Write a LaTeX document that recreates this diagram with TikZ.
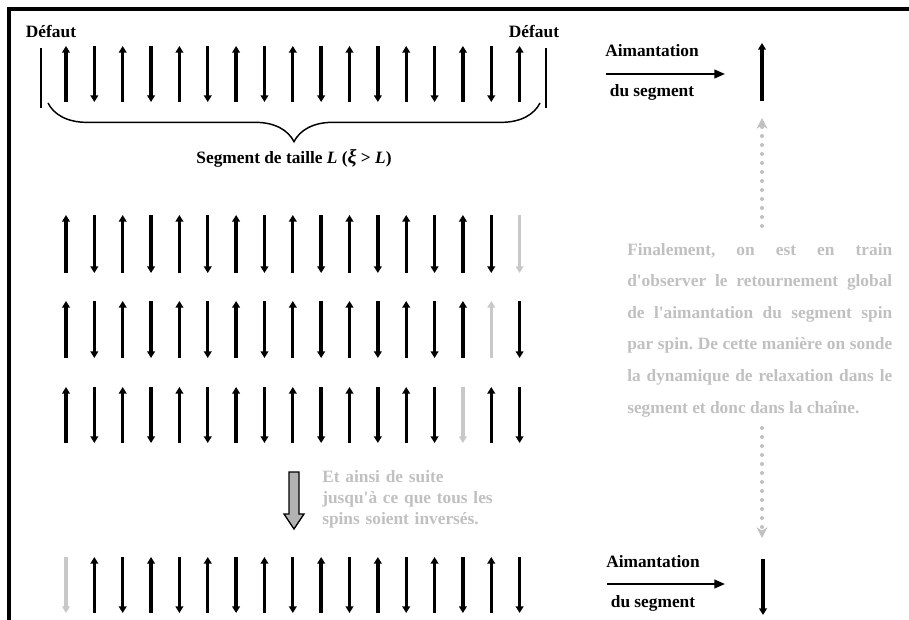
\documentclass[tikz,border=0pt]{standalone}
\usepackage{fontspec}
\setmainfont{Liberation Serif}[Ligatures=TeXOff]
\usetikzlibrary{arrows.meta, decorations.pathreplacing}
\definecolor{lightgrey}{RGB}{192,192,192}
\definecolor{flipgrey}{RGB}{200,200,200}
\definecolor{boxgrey}{RGB}{178,178,178}
\tikzset{
  spin/.style={line width=2.5pt},
  spinup/.style={spin, {Triangle[width=5.8pt,length=5pt]}-},
  spindn/.style={spin, -{Triangle[width=5.8pt,length=5pt]}},
  spinupg/.style={spinup, draw=flipgrey},
  spindng/.style={spindn, draw=flipgrey},
  defect/.style={line width=1.8pt},
  txt/.style={font=\fontsize{13}{15.75}\selectfont\bfseries, inner sep=0pt},
  greytxt/.style={txt, text=lightgrey},
  magarrow/.style={line width=1.5pt, -{Triangle[width=6.5pt,length=8pt]}},
  dotarrow/.style={draw=lightgrey, line width=3pt, line cap=round,
    dash pattern=on 0pt off 6.75pt, -{Stealth[length=8pt,width=8pt,inset=2.5pt]}},
  bigarrow/.style={draw=black, line width=1pt, fill=boxgrey}
}

\begin{document}
\begin{tikzpicture}[x=0.75pt, y=-0.75pt]
  \useasboundingbox (0,0) rectangle (909,620);
  % ── frame ────────────────────────────────────────────────────────
  \draw[line width=2.6pt] (9,620) -- (9,9) -- (909,9);

  % ── segment between the two defects ──────────────────────────────
  \node[txt, anchor=base] (defautL) at (51,38)  {Défaut};
  \node[txt, anchor=base] (defautR) at (534,38) {Défaut};
  \coordinate (barL1) at (41,48);  \coordinate (barL2) at (41,108);
  \coordinate (barR1) at (546,48); \coordinate (barR2) at (546,108);
  \draw[defect] (barL1) -- (barL2);
  \draw[defect] (barR1) -- (barR2);

  \draw[line width=1.1pt, decorate, decoration={brace, mirror, amplitude=29pt}]
        (48,103) -- (540,103);
  \node[txt, anchor=base] (segLabel) at (294,164)
        {Segment de taille \textit{L} (\textit{\fontsize{15}{15}\selectfont ξ} > \textit{L})};

  % spins: from index k on the chain is flipped, spin k is grey
  \foreach \ytop/\ybot/\k in {46/102/17, 215/273/16, 301/358/15, 387/443/14, 557/613/0}
    \foreach \i in {0,...,16} {
      \pgfmathsetmacro\xs{66+28.35*\i}
      \pgfmathtruncatemacro\dir{mod(\i+ifthenelse(\i<\k,0,1),2)}
      \ifnum\dir=0 \def\sty{spinup}\else\def\sty{spindn}\fi
      \ifnum\i=\k \edef\sty{\sty g}\fi
      \draw[\sty] (\xs,\ytop) -- (\xs,\ybot);
    }

  % ── step arrow ───────────────────────────────────────────────────
  \draw[bigarrow] (289,472) -- (299,472) -- (299,514) -- (304,514)
                  -- (294,529) -- (284,514) -- (289,514) -- cycle;
  \node[greytxt, anchor=base west, text width=200pt, align=left] (etc) at (322,482)
        {Et ainsi de suite\\ jusqu'à ce que tous les\\ spins soient inversés.};

  % ── magnetisation of the segment ─────────────────────────────────
  \node[txt, anchor=base] (aimA) at (652,57) {Aimantation};
  \node[txt, anchor=base] (duA)  at (652,97) {du segment};
  \coordinate (magA1) at (606,74); \coordinate (magA2) at (725,74);
  \draw[magarrow] (magA1) -- (magA2);
  \draw[spinup] (762,43) -- (762,101);

  \node[txt, anchor=base] (aimB) at (653,567) {Aimantation};
  \node[txt, anchor=base] (duB)  at (653,607) {du segment};
  \coordinate (magB1) at (607,584); \coordinate (magB2) at (725,584);
  \draw[magarrow] (magB1) -- (magB2);
  \draw[spindn] (763,559) -- (763,615);

  % ── comment with dotted arrows ───────────────────────────────────
  \node[greytxt, anchor=base west, text width=198.75pt, align=justify,
        font=\fontsize{13}{23.7}\selectfont\bfseries] (comment) at (627,255)
        {\frenchspacing\hyphenpenalty=10000
         Finalement, on est en train\linebreak
         d'observer le retournement global\linebreak
         de l'aimantation du segment spin\linebreak
         par spin. De cette manière on sonde\linebreak
         la dynamique de relaxation dans le\linebreak
         segment et donc dans la chaîne.};
  \coordinate (dotA1) at (762,226); \coordinate (dotA2) at (762,118);
  \coordinate (dotB1) at (762,428); \coordinate (dotB2) at (762,538);
  \draw[dotarrow] (dotA1) -- (dotA2);
  \draw[dotarrow] (dotB1) -- (dotB2);
\end{tikzpicture}
\end{document}
